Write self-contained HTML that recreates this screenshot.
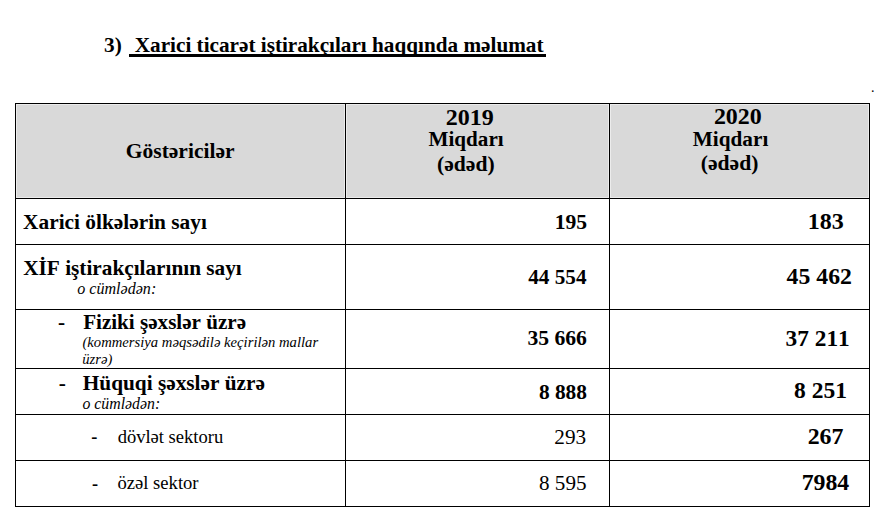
<!DOCTYPE html>
<html><head><meta charset="utf-8"><style>
html,body{margin:0;padding:0;background:#fff;}
body{width:878px;height:516px;position:relative;overflow:hidden;}
.t{position:absolute;white-space:pre;color:#000;font-kerning:none;}
.r{position:absolute;}
</style></head><body>
<div class="r" style="left:16px;top:104px;width:329px;height:94px;background:#ececec"></div>
<div class="r" style="left:346px;top:104px;width:263px;height:94px;background:#ececec"></div>
<div class="r" style="left:610px;top:104px;width:259px;height:94px;background:#ececec"></div>
<div class="r" style="left:17px;top:105px;width:327px;height:92px;background:#d9d9d9"></div>
<div class="r" style="left:347px;top:105px;width:261px;height:92px;background:#d9d9d9"></div>
<div class="r" style="left:611px;top:105px;width:257px;height:92px;background:#d9d9d9"></div>
<div class="r" style="left:15px;top:103px;width:855px;height:1px;background:#000"></div>
<div class="r" style="left:15px;top:198px;width:855px;height:1px;background:#000"></div>
<div class="r" style="left:15px;top:244px;width:855px;height:1px;background:#000"></div>
<div class="r" style="left:15px;top:309px;width:855px;height:1px;background:#000"></div>
<div class="r" style="left:15px;top:368px;width:855px;height:1px;background:#000"></div>
<div class="r" style="left:15px;top:414px;width:855px;height:1px;background:#000"></div>
<div class="r" style="left:15px;top:460px;width:855px;height:1px;background:#000"></div>
<div class="r" style="left:15px;top:506px;width:855px;height:1px;background:#000"></div>
<div class="r" style="left:15px;top:103px;width:1px;height:404px;background:#000"></div>
<div class="r" style="left:345px;top:103px;width:1px;height:404px;background:#000"></div>
<div class="r" style="left:609px;top:103px;width:1px;height:404px;background:#000"></div>
<div class="r" style="left:869px;top:103px;width:1px;height:404px;background:#000"></div>
<div class="r" style="left:129px;top:54px;width:417px;height:3px;background:#000"></div>
<div class="t" style="left:104.00px;top:34.96px;font-family:'Liberation Serif', 'DejaVu Serif', serif;font-weight:bold;font-style:normal;font-size:21.30px;line-height:21.30px;">3)</div>
<div class="t" style="left:134.81px;top:35.04px;font-family:'Liberation Serif', 'DejaVu Serif', serif;font-weight:bold;font-style:normal;font-size:21.21px;line-height:21.21px;">Xarici ticarət iştirakçıları haqqında məlumat</div>
<div class="t" style="left:125.75px;top:140.87px;font-family:'Liberation Serif', 'DejaVu Serif', serif;font-weight:bold;font-style:normal;font-size:21.54px;line-height:21.54px;">Göstəricilər</div>
<div class="t" style="left:445.79px;top:104.57px;font-family:'Liberation Serif', 'DejaVu Serif', serif;font-weight:bold;font-style:normal;font-size:24.04px;line-height:24.04px;">2019</div>
<div class="t" style="left:428.54px;top:129.00px;font-family:'Liberation Serif', 'DejaVu Serif', serif;font-weight:bold;font-style:normal;font-size:21.14px;line-height:21.14px;">Miqdarı</div>
<div class="t" style="left:437.05px;top:153.68px;font-family:'Liberation Serif', 'DejaVu Serif', serif;font-weight:bold;font-style:normal;font-size:21.64px;line-height:21.64px;">(ədəd)</div>
<div class="t" style="left:713.89px;top:104.84px;font-family:'Liberation Serif', 'DejaVu Serif', serif;font-weight:bold;font-style:normal;font-size:23.96px;line-height:23.96px;">2020</div>
<div class="t" style="left:692.84px;top:128.83px;font-family:'Liberation Serif', 'DejaVu Serif', serif;font-weight:bold;font-style:normal;font-size:21.23px;line-height:21.23px;">Miqdarı</div>
<div class="t" style="left:700.75px;top:153.28px;font-family:'Liberation Serif', 'DejaVu Serif', serif;font-weight:bold;font-style:normal;font-size:21.64px;line-height:21.64px;">(ədəd)</div>
<div class="t" style="left:23.10px;top:211.92px;font-family:'Liberation Serif', 'DejaVu Serif', serif;font-weight:bold;font-style:normal;font-size:21.35px;line-height:21.35px;">Xarici ölkələrin sayı</div>
<div class="t" style="left:554.67px;top:211.90px;font-family:'Liberation Serif', 'DejaVu Serif', serif;font-weight:bold;font-style:normal;font-size:21.61px;line-height:21.61px;">195</div>
<div class="t" style="left:807.68px;top:208.58px;font-family:'Liberation Serif', 'DejaVu Serif', serif;font-weight:bold;font-style:normal;font-size:24.03px;line-height:24.03px;">183</div>
<div class="t" style="left:23.21px;top:257.58px;font-family:'Liberation Serif', 'DejaVu Serif', serif;font-weight:bold;font-style:normal;font-size:21.28px;line-height:21.28px;">XİF iştirakçılarının sayı</div>
<div class="t" style="left:77.22px;top:281.43px;font-family:'Liberation Serif', 'DejaVu Serif', serif;font-weight:normal;font-style:italic;font-size:16.09px;line-height:16.09px;">o cümlədən:</div>
<div class="t" style="left:528.21px;top:266.85px;font-family:'Liberation Serif', 'DejaVu Serif', serif;font-weight:bold;font-style:normal;font-size:21.19px;line-height:21.19px;">44 554</div>
<div class="t" style="left:786.58px;top:264.70px;font-family:'Liberation Serif', 'DejaVu Serif', serif;font-weight:bold;font-style:normal;font-size:23.76px;line-height:23.76px;">45 462</div>
<div class="t" style="left:57.92px;top:311.76px;font-family:'Liberation Serif', 'DejaVu Serif', serif;font-weight:bold;font-style:normal;font-size:21.30px;line-height:21.30px;">-</div>
<div class="t" style="left:83.14px;top:311.92px;font-family:'Liberation Serif', 'DejaVu Serif', serif;font-weight:bold;font-style:normal;font-size:21.11px;line-height:21.11px;">Fiziki şəxslər üzrə</div>
<div class="t" style="left:82.48px;top:335.42px;font-family:'Liberation Serif', 'DejaVu Serif', serif;font-weight:normal;font-style:italic;font-size:14.67px;line-height:14.67px;">(kommersiya məqsədilə keçirilən mallar</div>
<div class="t" style="left:82.27px;top:352.24px;font-family:'Liberation Serif', 'DejaVu Serif', serif;font-weight:normal;font-style:italic;font-size:14.64px;line-height:14.64px;">üzrə)</div>
<div class="t" style="left:527.39px;top:328.37px;font-family:'Liberation Serif', 'DejaVu Serif', serif;font-weight:bold;font-style:normal;font-size:21.65px;line-height:21.65px;">35 666</div>
<div class="t" style="left:785.62px;top:326.95px;font-family:'Liberation Serif', 'DejaVu Serif', serif;font-weight:bold;font-style:normal;font-size:23.34px;line-height:23.34px;">37 211</div>
<div class="t" style="left:58.72px;top:372.66px;font-family:'Liberation Serif', 'DejaVu Serif', serif;font-weight:bold;font-style:normal;font-size:21.30px;line-height:21.30px;">-</div>
<div class="t" style="left:82.74px;top:372.66px;font-family:'Liberation Serif', 'DejaVu Serif', serif;font-weight:bold;font-style:normal;font-size:21.31px;line-height:21.31px;">Hüquqi şəxslər üzrə</div>
<div class="t" style="left:82.43px;top:396.04px;font-family:'Liberation Serif', 'DejaVu Serif', serif;font-weight:normal;font-style:italic;font-size:15.84px;line-height:15.84px;">o cümlədən:</div>
<div class="t" style="left:538.89px;top:382.09px;font-family:'Liberation Serif', 'DejaVu Serif', serif;font-weight:bold;font-style:normal;font-size:21.39px;line-height:21.39px;">8 888</div>
<div class="t" style="left:794.02px;top:378.81px;font-family:'Liberation Serif', 'DejaVu Serif', serif;font-weight:bold;font-style:normal;font-size:23.51px;line-height:23.51px;">8 251</div>
<div class="t" style="left:91.33px;top:428.28px;font-family:'Liberation Serif', 'DejaVu Serif', serif;font-weight:bold;font-style:normal;font-size:18.30px;line-height:18.30px;">-</div>
<div class="t" style="left:117.63px;top:428.05px;font-family:'Liberation Serif', 'DejaVu Serif', serif;font-weight:normal;font-style:normal;font-size:18.56px;line-height:18.56px;">dövlət sektoru</div>
<div class="t" style="left:554.37px;top:427.21px;font-family:'Liberation Serif', 'DejaVu Serif', serif;font-weight:normal;font-style:normal;font-size:21.24px;line-height:21.24px;">293</div>
<div class="t" style="left:807.70px;top:424.82px;font-family:'Liberation Serif', 'DejaVu Serif', serif;font-weight:bold;font-style:normal;font-size:23.86px;line-height:23.86px;">267</div>
<div class="t" style="left:91.93px;top:474.58px;font-family:'Liberation Serif', 'DejaVu Serif', serif;font-weight:bold;font-style:normal;font-size:18.30px;line-height:18.30px;">-</div>
<div class="t" style="left:117.49px;top:474.33px;font-family:'Liberation Serif', 'DejaVu Serif', serif;font-weight:normal;font-style:normal;font-size:18.60px;line-height:18.60px;">özəl sektor</div>
<div class="t" style="left:539.00px;top:473.31px;font-family:'Liberation Serif', 'DejaVu Serif', serif;font-weight:normal;font-style:normal;font-size:21.12px;line-height:21.12px;">8 595</div>
<div class="t" style="left:801.64px;top:470.87px;font-family:'Liberation Serif', 'DejaVu Serif', serif;font-weight:bold;font-style:normal;font-size:23.80px;line-height:23.80px;">7984</div>
<div class="t" style="left:870.88px;top:80.68px;font-family:'Liberation Serif', 'DejaVu Serif', serif;font-weight:normal;font-style:normal;font-size:14.00px;line-height:14.00px;">.</div>
</body></html>
